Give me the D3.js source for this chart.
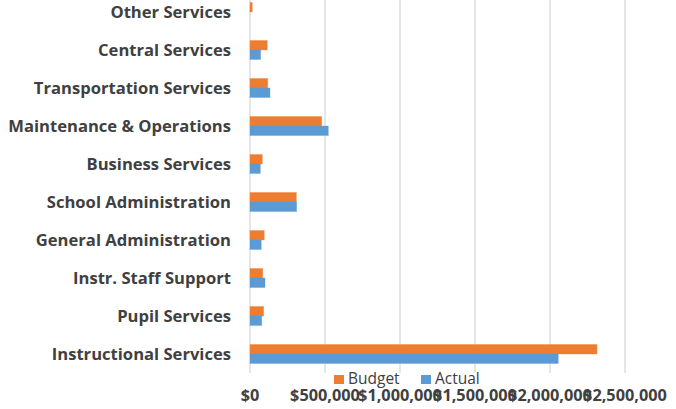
<!DOCTYPE html>
<html>
<head>
<meta charset="utf-8">
<script src="https://cdn.jsdelivr.net/npm/d3@7"></script>
<style>
  html, body { margin: 0; padding: 0; background: #fff; }
  svg { display: block; }
</style>
</head>
<body>
<svg id="chart" width="676" height="409"></svg>
<script>
// Spending by function: budget vs actual
const categories = [
  "Other Services",
  "Central Services",
  "Transportation Services",
  "Maintenance & Operations",
  "Business Services",
  "School Administration",
  "General Administration",
  "Instr. Staff Support",
  "Pupil Services",
  "Instructional Services"
];
const budget = [15000, 115000, 118000, 478000, 82000, 309000, 95000, 85000, 91000, 2313000];
const actual = [0, 71000, 133000, 522000, 69000, 311000, 75000, 100000, 78000, 2055000];
const seriesNames = ["Budget", "Actual"];
const seriesColors = ["#ED7D31", "#5B9BD5"];
const tickValues = [0, 500000, 1000000, 1500000, 2000000, 2500000];

const svg = d3.select("#chart");
const font = "'Open Sans', sans-serif";

const x = d3.scaleLinear().domain([0, 2500000]).range([250, 625]);
const y = d3.scaleBand().domain(categories).range([-7, 373]).paddingInner(0.5).paddingOuter(0.25);
const ySub = d3.scaleBand().domain(seriesNames).range([0, y.bandwidth()]);

// gridlines
svg.append("g").selectAll("line").data(tickValues).join("line")
  .attr("x1", d => x(d)).attr("x2", d => x(d))
  .attr("y1", -7).attr("y2", 373)
  .attr("stroke", "#D9D9D9").attr("stroke-width", 1.3);

// bars
const rows = categories.map((c, i) => ({ c, vals: [budget[i], actual[i]] }));
const g = svg.append("g").selectAll("g").data(rows).join("g")
  .attr("transform", d => `translate(0,${y(d.c)})`);
g.selectAll("rect").data(d => d.vals.map((v, j) => ({ v, j })).filter(e => e.v > 0)).join("rect")
  .attr("x", x(0))
  .attr("y", d => ySub(seriesNames[d.j]))
  .attr("width", d => x(d.v) - x(0))
  .attr("height", ySub.bandwidth())
  .attr("fill", d => seriesColors[d.j])
  .attr("stroke", d => seriesColors[d.j])
  .attr("stroke-opacity", 0.35)
  .attr("stroke-width", 1);

// category labels
svg.append("g").selectAll("text").data(categories).join("text")
  .attr("x", 231)
  .attr("y", d => y(d) + y.bandwidth() / 2 + 5.7)
  .attr("text-anchor", "end")
  .attr("font-family", font)
  .attr("font-weight", "bold")
  .attr("font-size", 16.6)
  .attr("fill", "#404040")
  .text(d => d);

// value axis labels
const fmt = d => "$" + d3.format(",")(d);
svg.append("g").selectAll("text").data(tickValues).join("text")
  .attr("x", d => x(d))
  .attr("y", 401)
  .attr("text-anchor", "middle")
  .attr("font-family", font)
  .attr("font-weight", "bold")
  .attr("font-size", 16.3)
  .attr("fill", "#404040")
  .text(fmt);

// legend
const legendX = [334, 421];
const lg = svg.append("g").selectAll("g").data(seriesNames).join("g")
  .attr("transform", (d, i) => `translate(${legendX[i]},375)`);
lg.append("rect").attr("width", 10).attr("height", 9)
  .attr("fill", (d, i) => seriesColors[i]);
lg.append("text").attr("x", 14).attr("y", 9)
  .attr("font-family", font)
  .attr("font-size", 15.5)
  .attr("fill", "#404040")
  .text(d => d);
</script>
</body>
</html>
